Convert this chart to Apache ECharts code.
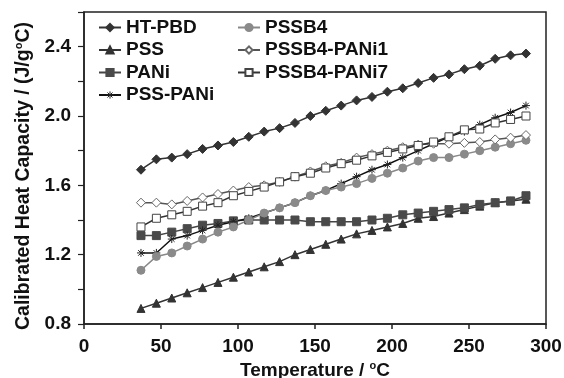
<!DOCTYPE html>
<html>
<head>
<meta charset="utf-8">
<script src="https://cdn.jsdelivr.net/npm/echarts@6/dist/echarts.min.js"></script>
<style>
  html, body { margin: 0; padding: 0; background: #fff; }
  #main { width: 564px; height: 378px; }
</style>
</head>
<body>
<div id="main"></div>
<script>
// temperatures (oC) shared by every series
var temps = [37, 47, 57, 67, 77, 87, 97, 107, 117, 127, 137, 147, 157, 167, 177, 187, 197, 207, 217, 227, 237, 247, 257, 267, 277, 287];

var htPbd = [1.69, 1.75, 1.76, 1.78, 1.81, 1.83, 1.85, 1.88, 1.91, 1.93, 1.96, 2.00, 2.03, 2.06, 2.09, 2.11, 2.14, 2.16, 2.19, 2.22, 2.24, 2.27, 2.29, 2.33, 2.35, 2.36];
var pss = [0.89, 0.92, 0.95, 0.98, 1.01, 1.04, 1.07, 1.10, 1.13, 1.16, 1.20, 1.23, 1.26, 1.29, 1.32, 1.34, 1.36, 1.38, 1.41, 1.42, 1.44, 1.46, 1.48, 1.50, 1.51, 1.52];
var pani = [1.31, 1.31, 1.33, 1.35, 1.37, 1.38, 1.395, 1.40, 1.40, 1.40, 1.40, 1.39, 1.39, 1.39, 1.39, 1.40, 1.41, 1.43, 1.44, 1.45, 1.46, 1.47, 1.49, 1.50, 1.51, 1.54];
var pssPani = [1.21, 1.21, 1.29, 1.31, 1.34, 1.37, 1.39, 1.41, 1.44, 1.47, 1.50, 1.54, 1.57, 1.61, 1.65, 1.69, 1.72, 1.76, 1.80, 1.84, 1.88, 1.91, 1.95, 1.99, 2.02, 2.06];
var pssb4 = [1.11, 1.19, 1.21, 1.25, 1.29, 1.33, 1.36, 1.40, 1.44, 1.47, 1.50, 1.54, 1.57, 1.59, 1.61, 1.64, 1.67, 1.70, 1.74, 1.76, 1.76, 1.78, 1.80, 1.82, 1.84, 1.86];
var pssb4Pani1 = [1.50, 1.50, 1.49, 1.51, 1.53, 1.55, 1.57, 1.59, 1.60, 1.62, 1.65, 1.68, 1.71, 1.73, 1.76, 1.78, 1.80, 1.82, 1.835, 1.84, 1.84, 1.845, 1.85, 1.865, 1.875, 1.89];
var pssb4Pani7 = [1.36, 1.41, 1.43, 1.45, 1.48, 1.50, 1.54, 1.565, 1.59, 1.62, 1.65, 1.67, 1.70, 1.725, 1.745, 1.77, 1.79, 1.81, 1.83, 1.85, 1.88, 1.92, 1.925, 1.96, 1.98, 2.00];

var xTicks = [0, 50, 100, 150, 200, 250, 300];
var yLabels = [0.8, 1.2, 1.6, 2.0, 2.4];

var font = '"Liberation Sans", Arial, sans-serif';
var asterisk = 'path://M0,5L10,5M5,0L5,10M1.5,1.5L8.5,8.5M8.5,1.5L1.5,8.5';

function pairs(vals) {
  return temps.map(function (t, i) { return [t, vals[i]]; });
}

function line(name, vals, color, symbol, size, fill, border) {
  return {
    name: name,
    type: 'line',
    data: pairs(vals),
    symbol: symbol,
    symbolSize: size,
    showAllSymbol: true,
    lineStyle: { color: color, width: 1.5 },
    itemStyle: { color: fill, borderColor: border, borderWidth: 1 },
    emphasis: { disabled: true },
    animation: false
  };
}

var series = [
  line('HT-PBD', htPbd, '#333', 'diamond', 9, '#333', '#333'),
  line('PSS', pss, '#333', 'triangle', 8, '#333', '#333'),
  line('PANi', pani, '#444', 'rect', 8, '#4a4a4a', '#4a4a4a'),
  line('PSS-PANi', pssPani, '#111', asterisk, 8, 'rgba(0,0,0,0)', '#222'),
  line('PSSB4', pssb4, '#888', 'circle', 8, '#8a8a8a', '#8a8a8a'),
  line('PSSB4-PANi1', pssb4Pani1, '#555', 'diamond', 9, '#fff', '#666'),
  line('PSSB4-PANi7', pssb4Pani7, '#333', 'rect', 8, '#fff', '#444')
];

var legendText = { fontFamily: font, fontWeight: 'bold', fontSize: 19, color: '#111', lineHeight: 19 };

var option = {
  backgroundColor: '#fff',
  grid: {
    left: 84, right: 18, top: 12, bottom: 54,
    outerBoundsMode: 'none',
    show: true, borderColor: '#222', borderWidth: 1.5
  },
  legend: [
    {
      data: ['HT-PBD', 'PSS', 'PANi', {
        name: 'PSS-PANi',
        itemStyle: { color: 'rgba(0,0,0,0)', borderColor: '#222', borderWidth: 1 }
      }],
      orient: 'vertical', left: 93, top: 13,
      itemWidth: 22, itemHeight: 9, itemGap: 3.5,
      textStyle: legendText
    },
    {
      data: ['PSSB4', 'PSSB4-PANi1', 'PSSB4-PANi7'],
      orient: 'vertical', left: 232, top: 13,
      itemWidth: 22, itemHeight: 9, itemGap: 3.5,
      textStyle: legendText
    }
  ],
  xAxis: {
    type: 'value',
    min: xTicks[0], max: xTicks[xTicks.length - 1], interval: 50,
    name: '{t|Temperature / }{s|o}{t|C}',
    nameLocation: 'middle', nameGap: 32,
    nameTextStyle: {
      rich: {
        t: { fontFamily: font, fontWeight: 'bold', fontSize: 19, color: '#111' },
        s: { fontFamily: font, fontWeight: 'bold', fontSize: 11, color: '#111', padding: [0, 0, 9, 0] }
      }
    },
    axisLine: { lineStyle: { color: '#222', width: 1.5 } },
    axisTick: { length: 5, lineStyle: { color: '#222', width: 1.5 } },
    axisLabel: { fontFamily: font, fontWeight: 'bold', fontSize: 19, color: '#111', margin: 13 },
    splitLine: { show: false }
  },
  yAxis: {
    type: 'value',
    min: 0.8, max: 2.6, interval: 0.2,
    name: '{t|Calibrated Heat Capacity / (J/g}{s|o}{t|C)}',
    nameLocation: 'middle', nameGap: 50, nameRotate: 90,
    nameTextStyle: {
      padding: [0, 16, 0, 0],
      rich: {
        t: { fontFamily: font, fontWeight: 'bold', fontSize: 19.5, color: '#111' },
        s: { fontFamily: font, fontWeight: 'bold', fontSize: 11, color: '#111', padding: [0, 0, 9, 0] }
      }
    },
    axisLine: { show: true, lineStyle: { color: '#222', width: 1.5 } },
    axisTick: { show: true, length: 6, lineStyle: { color: '#222', width: 1.2 } },
    axisLabel: {
      fontFamily: font, fontWeight: 'bold', fontSize: 19, color: '#111', margin: 13,
      formatter: function (v) {
        for (var i = 0; i < yLabels.length; i++) {
          if (Math.abs(v - yLabels[i]) < 1e-6) return yLabels[i].toFixed(1);
        }
        return '';
      }
    },
    splitLine: { show: false }
  },
  series: series
};

var chart = echarts.init(document.getElementById('main'), null, { renderer: 'canvas' });
chart.setOption(option);
</script>
</body>
</html>
